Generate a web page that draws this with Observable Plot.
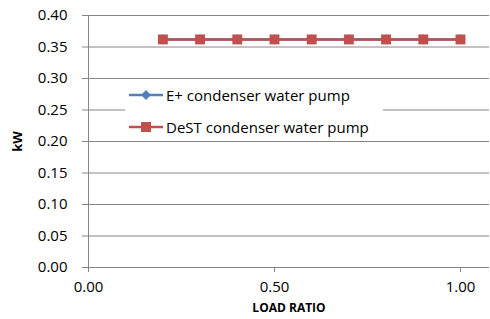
<!DOCTYPE html>
<html>
<head>
<meta charset="utf-8">
<script src="https://cdn.jsdelivr.net/npm/d3@7"></script>
<script src="https://cdn.jsdelivr.net/npm/@observablehq/plot@0.6"></script>
<style>
  body { margin: 0; background: #fff; }
  #wrap { position: relative; width: 490px; height: 319px; font-family: "Open Sans", sans-serif; }
  #legend { position: absolute; left: 125px; top: 82px; width: 258px; height: 56px; background: #fff; }
  .row { position: absolute; left: 4px; height: 20px; display: flex; align-items: center; font-size: 15px; color: #000; white-space: nowrap; }
  .row svg { margin-right: 3px; }
</style>
</head>
<body>
<div id="wrap"></div>
<script>
const loadRatio = [0.2, 0.3, 0.4, 0.5, 0.6, 0.7, 0.8, 0.9, 1.0];
const ePlus = [0.362, 0.362, 0.362, 0.362, 0.362, 0.362, 0.362, 0.362, 0.362];
const dest = [0.362, 0.362, 0.362, 0.362, 0.362, 0.362, 0.362, 0.362, 0.362];
const yTicks = [0, 0.05, 0.1, 0.15, 0.2, 0.25, 0.3, 0.35, 0.4];
const xTicks = [0, 0.5, 1.0];
const seriesNames = ["E+ condenser water pump", "DeST condenser water pump"];
const colors = ["#4F81BD", "#C0504D"];

const eData = loadRatio.map((x, i) => ({x, y: ePlus[i]}));
const dData = loadRatio.map((x, i) => ({x, y: dest[i]}));
const grey = "#868686";
const fmt = d3.format(".2f");

const chart = Plot.plot({
  width: 490,
  height: 319,
  marginTop: 15,
  marginBottom: 52,
  marginLeft: 88,
  marginRight: 1,
  style: {fontFamily: "Open Sans, sans-serif", background: "#fff"},
  x: {domain: [0, 1.078]},
  y: {domain: [0, 0.4]},
  marks: [
    Plot.gridY(yTicks, {stroke: grey, strokeOpacity: 1, strokeWidth: 1}),
    Plot.ruleX([0], {stroke: grey, strokeWidth: 1}),
    Plot.axisY(yTicks, {tickFormat: fmt, tickSize: 6, tickPadding: 15, fontSize: 15, stroke: grey, strokeOpacity: 1, fill: "#000", label: null}),
    Plot.axisY({ticks: [], label: "kW", labelAnchor: "center", labelArrow: "none", labelOffset: 76, fontSize: 13, fontWeight: "bold", fill: "#000"}),
    Plot.axisX(xTicks, {tickFormat: fmt, tickSize: 5, tickPadding: 9, fontSize: 15, stroke: grey, strokeOpacity: 1, fill: "#000", label: null}),
    Plot.axisX({ticks: [], label: "LOAD RATIO", labelAnchor: "center", labelArrow: "none", labelOffset: 44, fontSize: 12, fontWeight: "bold", fill: "#000"}),
    Plot.line(eData, {x: "x", y: "y", stroke: colors[0], strokeWidth: 2.5}),
    Plot.dot(eData, {x: "x", y: "y", symbol: "diamond2", r: 4.6, fill: colors[0], stroke: "none"}),
    Plot.line(dData, {x: "x", y: "y", stroke: colors[1], strokeWidth: 2.5}),
    Plot.dot(dData, {x: "x", y: "y", symbol: "square", r: 5.6, fill: colors[1], stroke: "none"})
  ]
});
const wrap = document.getElementById("wrap");
wrap.appendChild(chart);

const legend = document.createElement("div");
legend.id = "legend";
const markers = [
  '<path d="M17,5 L22,10 L17,15 L12,10 Z" fill="' + colors[0] + '"/>',
  '<rect x="12" y="5" width="10" height="10" fill="' + colors[1] + '"/>'
];
seriesNames.forEach((name, i) => {
  const row = document.createElement("div");
  row.className = "row";
  row.style.top = (3 + i * 32) + "px";
  row.innerHTML = '<svg width="34" height="20"><line x1="0" y1="10" x2="34" y2="10" stroke="' + colors[i] + '" stroke-width="2.5"/>' + markers[i] + '</svg><span>' + name + '</span>';
  legend.appendChild(row);
});
wrap.appendChild(legend);
</script>
</body>
</html>
